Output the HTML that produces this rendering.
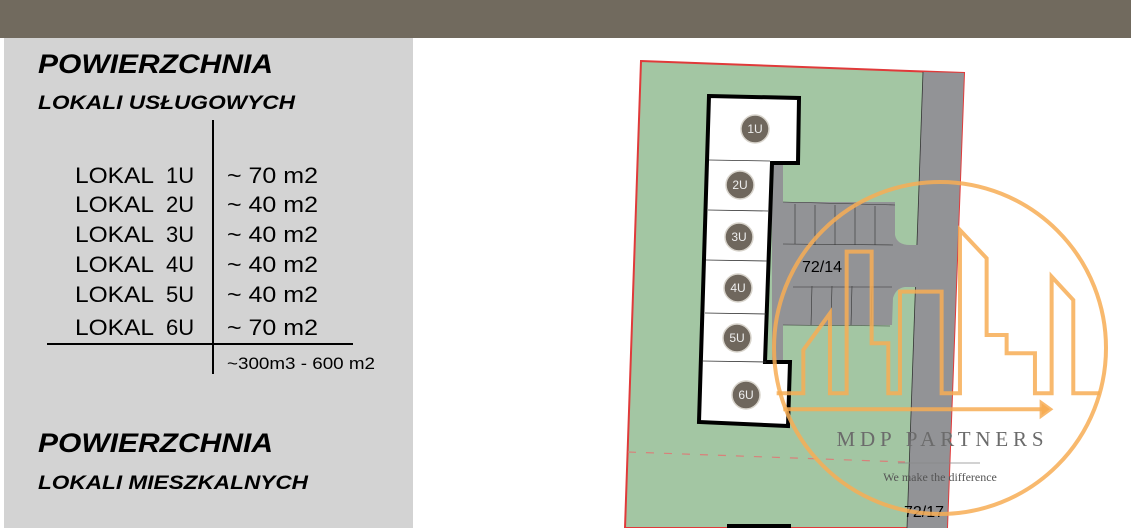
<!DOCTYPE html>
<html><head><meta charset="utf-8"><style>
html,body{margin:0;padding:0;background:#fff;}
svg{display:block;}
</style></head><body>
<svg width="1131" height="528" viewBox="0 0 1131 528" xmlns="http://www.w3.org/2000/svg" font-family="Liberation Sans, sans-serif">
<rect x="0" y="0" width="1131" height="528" fill="#fff"/>
<rect x="0" y="0" width="1131" height="38" fill="#716a5e"/>
<rect x="4" y="38" width="409" height="490" fill="#d3d3d3"/>
<text x="38" y="73" font-size="27" font-weight="bold" font-style="italic" textLength="235" lengthAdjust="spacingAndGlyphs">POWIERZCHNIA</text>
<text x="38" y="109" font-size="19" font-weight="bold" font-style="italic" textLength="257" lengthAdjust="spacingAndGlyphs">LOKALI USŁUGOWYCH</text>
<line x1="213" y1="120" x2="213" y2="374" stroke="#000" stroke-width="2"/>
<line x1="47" y1="344" x2="353" y2="344" stroke="#000" stroke-width="2"/>
<g font-size="22" fill="#000">
<text x="75" y="183" textLength="79" lengthAdjust="spacingAndGlyphs">LOKAL</text><text x="166" y="183">1U</text><text x="227" y="183" textLength="91" lengthAdjust="spacingAndGlyphs">~ 70 m2</text>
<text x="75" y="212" textLength="79" lengthAdjust="spacingAndGlyphs">LOKAL</text><text x="166" y="212">2U</text><text x="227" y="212" textLength="91" lengthAdjust="spacingAndGlyphs">~ 40 m2</text>
<text x="75" y="242" textLength="79" lengthAdjust="spacingAndGlyphs">LOKAL</text><text x="166" y="242">3U</text><text x="227" y="242" textLength="91" lengthAdjust="spacingAndGlyphs">~ 40 m2</text>
<text x="75" y="272" textLength="79" lengthAdjust="spacingAndGlyphs">LOKAL</text><text x="166" y="272">4U</text><text x="227" y="272" textLength="91" lengthAdjust="spacingAndGlyphs">~ 40 m2</text>
<text x="75" y="302" textLength="79" lengthAdjust="spacingAndGlyphs">LOKAL</text><text x="166" y="302">5U</text><text x="227" y="302" textLength="91" lengthAdjust="spacingAndGlyphs">~ 40 m2</text>
<text x="75" y="335" textLength="79" lengthAdjust="spacingAndGlyphs">LOKAL</text><text x="166" y="335">6U</text><text x="227" y="335" textLength="91" lengthAdjust="spacingAndGlyphs">~ 70 m2</text>
</g>
<text x="227" y="369" font-size="17" textLength="148" lengthAdjust="spacingAndGlyphs">~300m3 - 600 m2</text>
<text x="38" y="452" font-size="27" font-weight="bold" font-style="italic" textLength="235" lengthAdjust="spacingAndGlyphs">POWIERZCHNIA</text>
<text x="38" y="489" font-size="19" font-weight="bold" font-style="italic" textLength="270" lengthAdjust="spacingAndGlyphs">LOKALI MIESZKALNYCH</text>

<polygon points="641,61 964,73 947,528 625,528" fill="#a3c6a3" stroke="#e03a3a" stroke-width="2"/>
<polygon points="923,72 964,73 947,528 907,528" fill="#929396"/>
<line x1="923" y1="72" x2="907" y2="528" stroke="#333" stroke-width="0.8"/>
<path d="M772,163 L783,163 L783,202 L895,202 L895,235 Q897,245 910,245 L920,245 L918,287 L905,287 Q896,288 893,298 L892,325 L783,325 L783,362 L772,362 Z" fill="#929396"/>
<g stroke="#333" stroke-width="0.6" fill="none">
<path d="M783,202 L895,205 M783,244 L893,245 M793,287 L892,287 M783,325 L890,326"/>
<path d="M795,204 L795,244 M815,205 L815,245 M835,205 L835,245 M855,205 L855,245 M875,206 L875,245"/>
<path d="M812,286 L811,325 M832,286 L831,325 M852,286 L851,325 M872,286 L871,325"/>
</g>
<line x1="628" y1="452" x2="905" y2="462" stroke="#d9807a" stroke-width="1.2" stroke-dasharray="8,10"/>
<polygon points="709,96 799,98 798,163 772,163 765,362 790,362 788,426 699,422" fill="#fff" stroke="#000" stroke-width="4"/>
<g stroke="#333" stroke-width="0.8">
<line x1="709" y1="160" x2="770" y2="161"/>
<line x1="708" y1="210" x2="768" y2="211"/>
<line x1="706" y1="260" x2="767" y2="261"/>
<line x1="705" y1="313" x2="766" y2="314"/>
<line x1="703" y1="361" x2="766" y2="362"/>
</g>
<g fill="#6f675d" stroke="#d8d4cc" stroke-width="1.5">
<circle cx="755" cy="129" r="14"/><circle cx="740" cy="185" r="14"/><circle cx="739" cy="237" r="14"/>
<circle cx="738" cy="288" r="14"/><circle cx="737" cy="338" r="14"/><circle cx="746" cy="395" r="14"/>
</g>
<g fill="#eee" font-size="12" text-anchor="middle">
<text x="755" y="133">1U</text><text x="740" y="189">2U</text><text x="739" y="241">3U</text>
<text x="738" y="292">4U</text><text x="737" y="342">5U</text><text x="746" y="399">6U</text>
</g>
<text x="802" y="272" font-size="16">72/14</text>
<text x="904" y="517" font-size="16">72/17</text>
<rect x="727" y="524" width="64" height="4" fill="#000"/>
<g fill="none" stroke="#f7ad55" stroke-opacity="0.85">
<circle cx="940" cy="348" r="166" stroke-width="4"/>
<g transform="translate(620,50) scale(0.3333)" stroke-width="12">
<path d="M470,1030 L550,1030 L550,900 L630,790 L630,1030 L680,1030 L680,605 L755,605 L755,880 L805,880 L805,1030 L840,1030 L840,725 L965,725 L965,1030 L1020,1030 L1020,540 L1100,625 L1100,855 L1160,855 L1160,910 L1245,910 L1245,1030 L1295,1030 L1295,680 L1360,750 L1360,1030 L1440,1030"/>
<path d="M490,1078 L1280,1078"/>
<path d="M1265,1060 L1290,1078 L1265,1096 Z" fill="#f7ad55"/>
</g>
</g>
<text x="940" y="446" font-family="Liberation Serif, serif" font-size="21" fill="#6b6b6b" text-anchor="middle" textLength="207" lengthAdjust="spacing">MDP PARTNERS</text>
<line x1="898" y1="463" x2="980" y2="463" stroke="#888" stroke-width="0.8"/>
<text x="940" y="481" font-family="Liberation Serif, serif" font-size="12" fill="#555" text-anchor="middle">We make the difference</text>
</svg>
</body></html>
